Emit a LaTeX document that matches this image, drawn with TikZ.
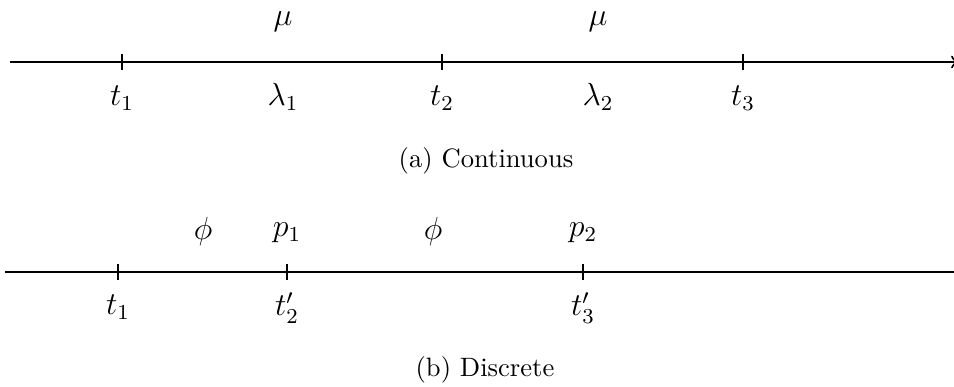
\documentclass[tikz,border=0pt]{standalone}
\begin{document}
\begin{tikzpicture}[x=0.376pt,y=-0.376pt,
  axis/.style={line width=0.8pt},
  tickline/.style={line width=0.8pt},
  lab/.style={inner sep=0pt,font=\large},
  captext/.style={font=\normalsize}]
\useasboundingbox (0,0) rectangle (954,387);
\begin{scope}
\clip (0,0) rectangle (954,387);
% top axis
\coordinate (a0) at (10,62);
\coordinate (a1) at (958,62);
\draw[axis,->] (a0) -- (a1);
\foreach \x in {122,442,743}{
  \draw[tickline] (\x,54) -- (\x,70);
}
% bottom axis
\coordinate (b0) at (5,272);
\coordinate (b1) at (954,272);
\draw[axis] (b0) -- (b1);
\foreach \x in {118,287,583}{
  \draw[tickline] (\x,264) -- (\x,280);
}
\end{scope}
% top labels
\node[lab] (t1) at (122,98) {$t_1$};
\node[lab] (l1) at (283,97) {$\lambda_1$};
\node[lab] (t2) at (442,98) {$t_2$};
\node[lab] (l2) at (598,97) {$\lambda_2$};
\node[lab] (t3) at (743,98) {$t_3$};
\node[lab] (m1) at (283,22) {$\mu$};
\node[lab] (m2) at (598,22) {$\mu$};
\node[captext] (ca) at (486,161) {(a) Continuous};
% bottom labels
\node[lab] (u1) at (118,307) {$t_1$};
\node[lab] (u2) at (287,308) {$t'_2$};
\node[lab] (u3) at (583,308) {$t'_3$};
\node[lab] (f1) at (203,232) {$\phi$};
\node[lab] (p1) at (287,233) {$p_1$};
\node[lab] (f2) at (433,232) {$\phi$};
\node[lab] (p2) at (583,233) {$p_2$};
\node[captext] (cb) at (485,370) {(b) Discrete};
\end{tikzpicture}
\end{document}
